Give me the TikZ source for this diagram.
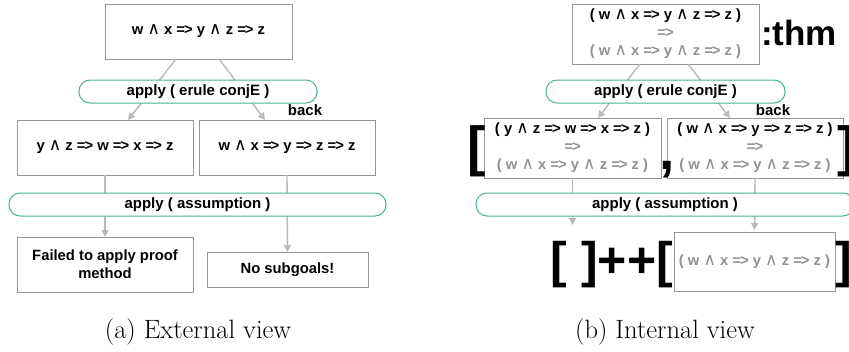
\documentclass[tikz,border=0pt]{standalone}
\usepackage{fontspec}
\setsansfont{Liberation Sans}
\newfontfamily\andfont{DejaVu Sans}
\usetikzlibrary{arrows.meta}
\definecolor{boxgray}{RGB}{150,150,150}
\definecolor{linegray}{RGB}{185,185,185}
\definecolor{textgray}{RGB}{145,145,145}
\definecolor{tacgreen}{RGB}{70,180,140}
\newcommand{\An}{{\andfont\mdseries\fontsize{17}{17}\selectfont\char"2227}}
\newcommand{\imp}{=\kern-1pt>}
\newcommand{\bigtext}[1]{\sffamily\bfseries\fontsize{#1}{#1}\selectfont}
\tikzset{
  goal/.style={draw=boxgray, line width=0.9pt, fill=white, align=center,
    font=\sffamily\bfseries\fontsize{14.8}{18}\selectfont},
  tactic/.style={draw=tacgreen, line width=1pt, fill=white, rounded corners=11pt,
    minimum height=23pt, font=\sffamily\bfseries\fontsize{15}{16}\selectfont},
  flow/.style={draw=linegray, line width=1.4pt, -{Triangle[length=7pt,width=7pt]}},
  lbl/.style={font=\sffamily\bfseries\fontsize{15}{16}\selectfont},
  caption/.style={font=\fontsize{26.5}{30}\selectfont}
}
\begin{document}
\begin{tikzpicture}[y=1pt, x=1pt, yscale=-1, inner sep=0pt, outer sep=0pt]
\useasboundingbox (0,0) rectangle (849,351);
% (a) external view
  \node[goal, minimum width=187, minimum height=55] (top) at (198.5,31.5) {w \An{} x \imp{} y \An{} z \imp{} z};
  \node[goal, minimum width=176, minimum height=55] (left) at (105,147.5) {y \An{} z \imp{} w \imp{} x \imp{} z};
  \node[goal, minimum width=176, minimum height=55] (right) at (287,147.5) {w \An{} x \imp{} y \imp{} z \imp{} z};
  \node[goal, minimum width=176, minimum height=55] (fail) at (105,264.5) {Failed to apply proof\\method};
  \node[goal, minimum width=161, minimum height=35] (done) at (287.5,269.5) {No subgoals!};
  \draw[flow] ([xshift=-22.5pt]top.south) -- ([xshift=23pt]left.north);
  \draw[flow] ([xshift=20.5pt]top.south) -- ([xshift=-22pt]right.north);
  \draw[flow] (left.south) -- (fail.north);
  \draw[flow] (right.south) -- (done.north);
  \node[tactic, minimum width=238] (conjE) at (198,91.5) {apply ( erule conjE )};
  \node[tactic, minimum width=377] (assm) at (197.5,204.5) {apply ( assumption )};
  \node[lbl] (back) at (305,110) {back};
  \node[caption] (capa) at (198,332) {(a) External view};
% (b) internal view
  \node[goal, minimum width=187, minimum height=60] (thmtop) at (665.5,34) {( w \An{} x \imp{} y \An{} z \imp{} z )\\\textcolor{textgray}{\imp}\\\textcolor{textgray}{( w \An{} x \imp{} y \An{} z \imp{} z )}};
  \node[goal, minimum width=177, minimum height=60] (thmleft) at (572.5,148) {( y \An{} z \imp{} w \imp{} x \imp{} z )\\\textcolor{textgray}{\imp}\\\textcolor{textgray}{( w \An{} x \imp{} y \An{} z \imp{} z )}};
  \node[goal, minimum width=176, minimum height=60] (thmright) at (755,148) {( w \An{} x \imp{} y \imp{} z \imp{} z )\\\textcolor{textgray}{\imp}\\\textcolor{textgray}{( w \An{} x \imp{} y \An{} z \imp{} z )}};
  \node[goal, minimum width=161, minimum height=59] (thmres) at (754.5,261.5) {\textcolor{textgray}{( w \An{} x \imp{} y \An{} z \imp{} z )}};
  \coordinate (empty) at (572.5,225);
  \draw[flow] ([xshift=-25.5pt]thmtop.south) -- ([xshift=25.5pt]thmleft.north);
  \draw[flow] ([xshift=22.5pt]thmtop.south) -- ([xshift=-25pt]thmright.north);
  \draw[flow] (thmleft.south) -- (empty);
  \draw[flow] (thmright.south) -- ([yshift=-2pt]thmres.north);
  \node[tactic, minimum width=239] (conjE2) at (665.5,91.5) {apply ( erule conjE )};
  \node[tactic, minimum width=378] (assm2) at (665,204.5) {apply ( assumption )};
  \node[lbl] (back2) at (773,110) {back};
  \node[anchor=west, font=\bigtext{35}] (thm) at (761,33) {:thm};
  \node[font=\bigtext{55}] (lbr) at (477,151) {[};
  \node[font=\bigtext{55}] (comma) at (667,170) {,};
  \node[font=\bigtext{55}] (rbr) at (847,151) {]};
  \node[anchor=east, font=\bigtext{50}] (nil) at (673,265) {[ ]++[};
  \node[font=\bigtext{50}] (rbr2) at (844,265) {]};
  \node[caption] (capb) at (665,332) {(b) Internal view};
\end{tikzpicture}
\end{document}
